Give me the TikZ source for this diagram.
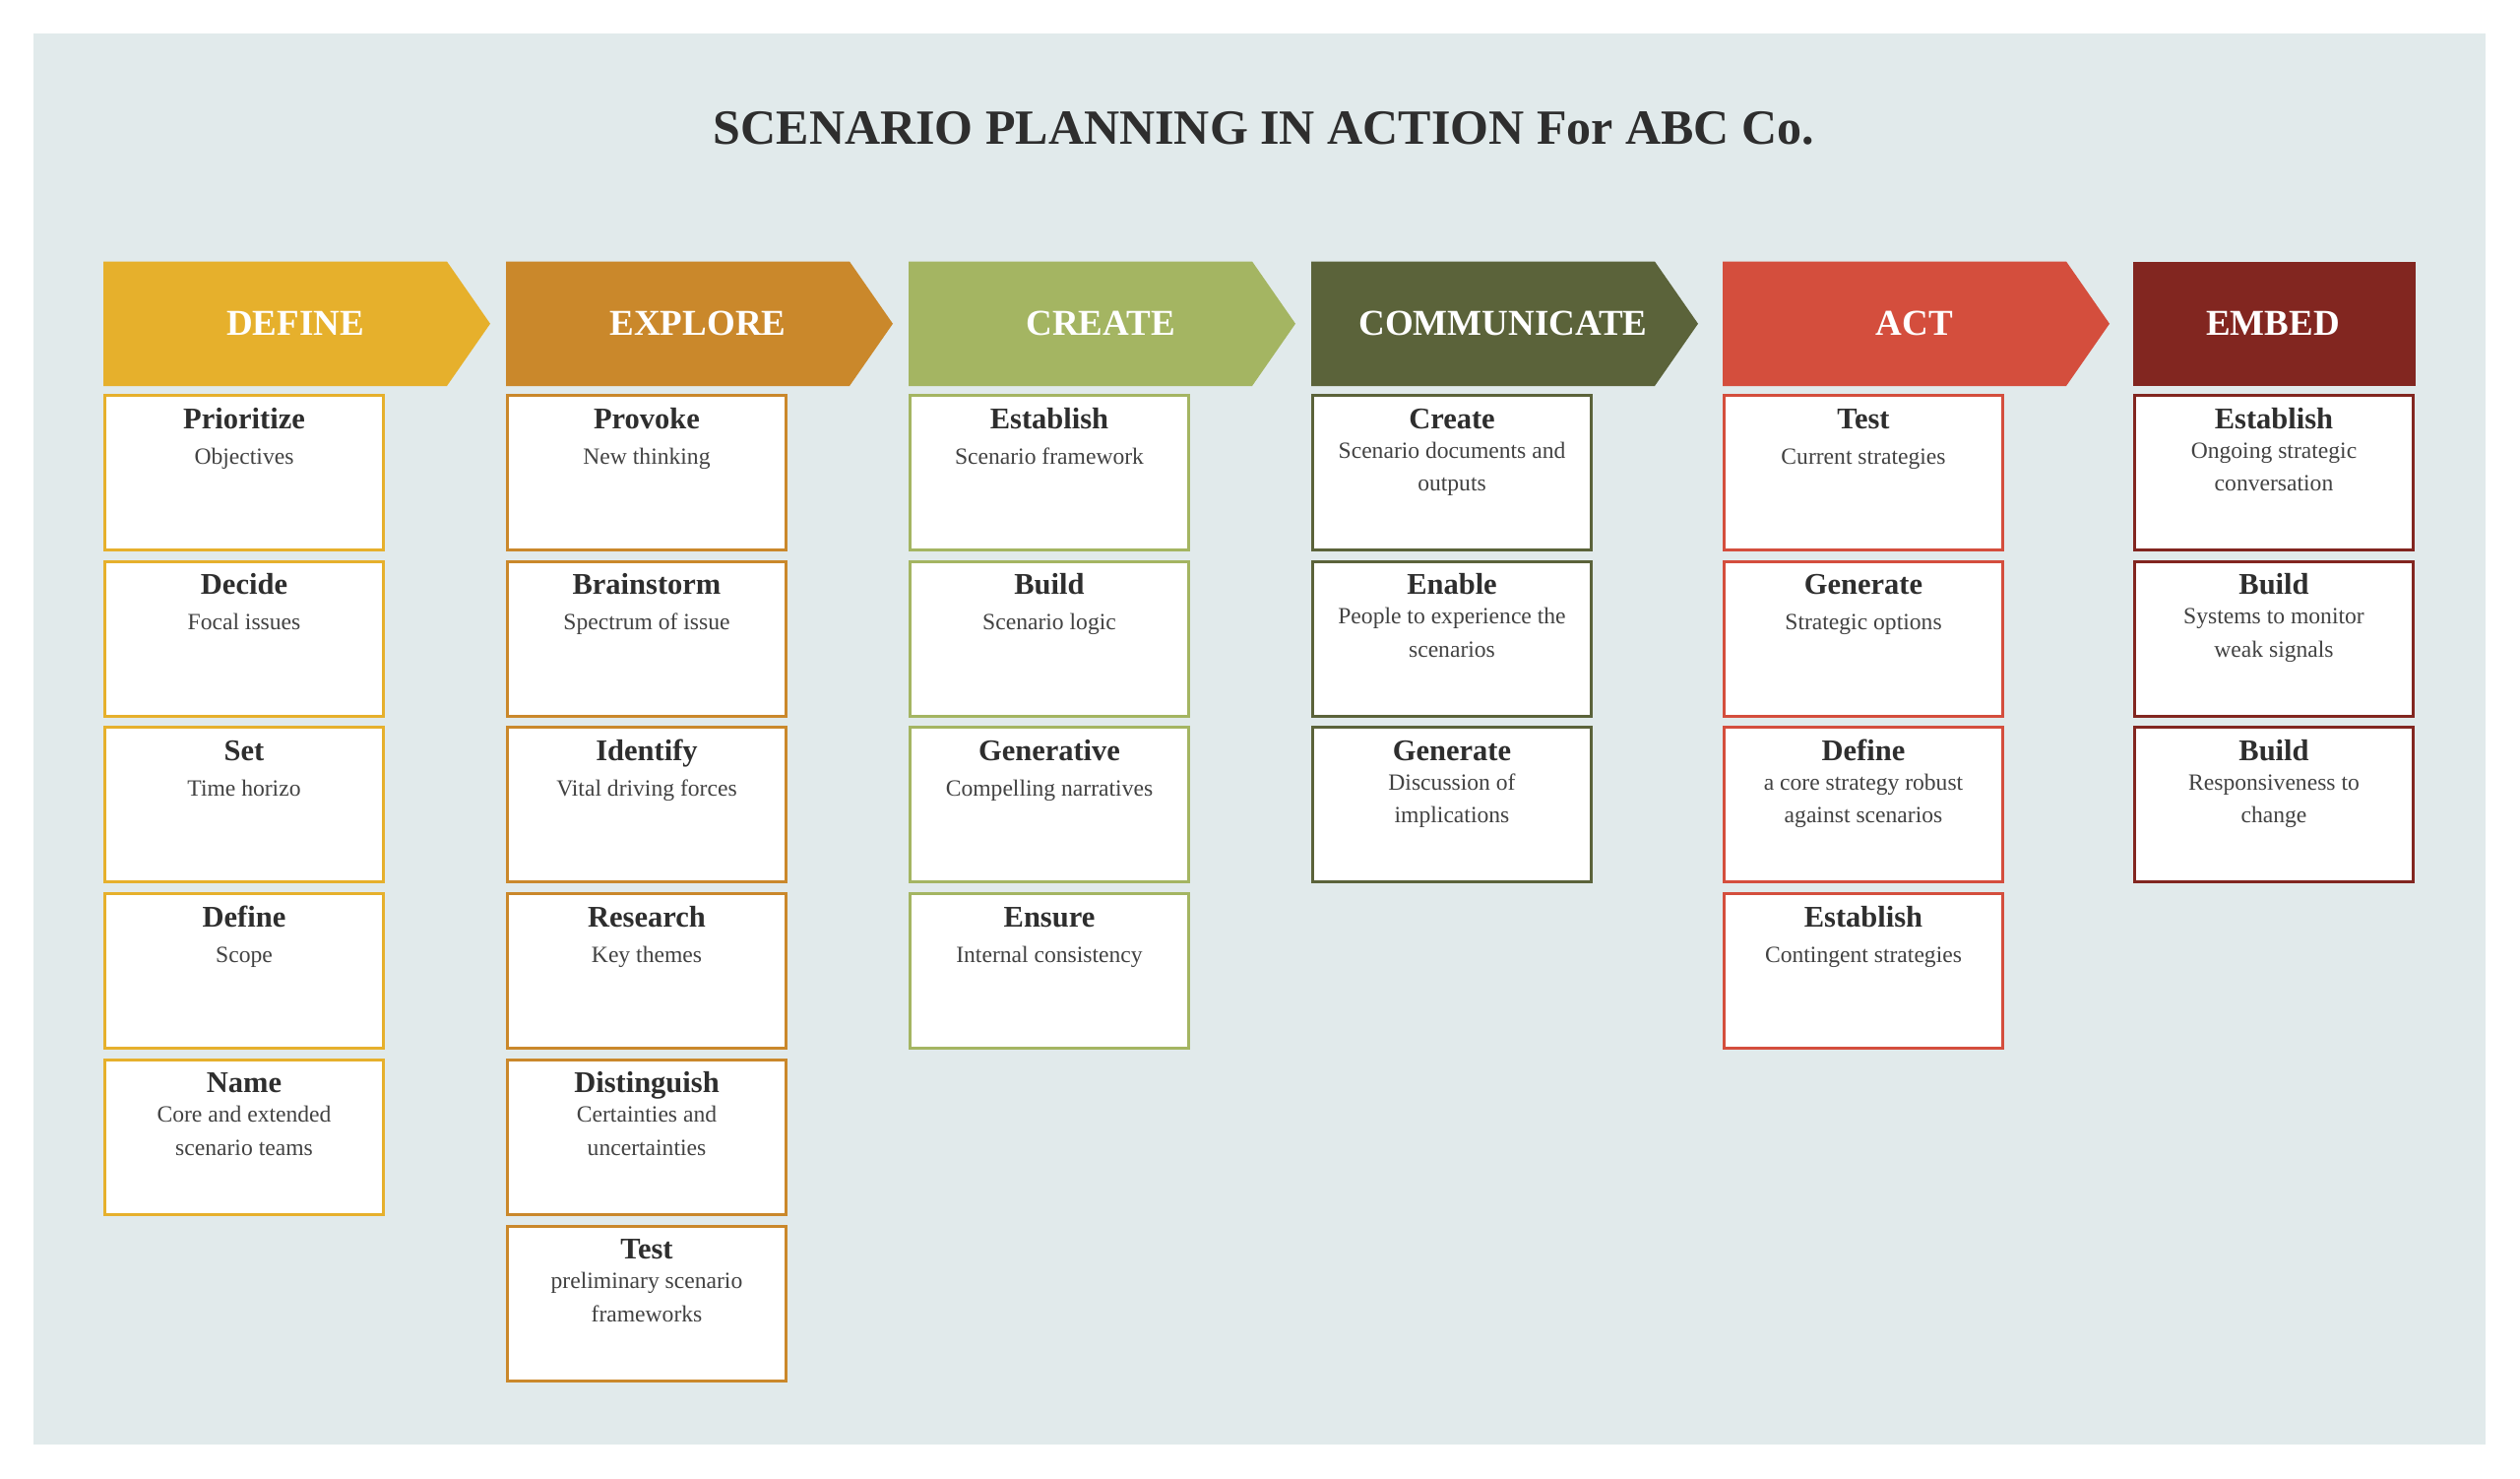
\documentclass[tikz,border=0pt]{standalone}
\usepackage{fontspec}
\setmainfont{Liberation Serif}
\definecolor{bgcol}{HTML}{E1EAEB}
\definecolor{cDefine}{HTML}{E6B02C}
\definecolor{cExplore}{HTML}{CA882B}
\definecolor{cCreate}{HTML}{A4B562}
\definecolor{cComm}{HTML}{5B633A}
\definecolor{cAct}{HTML}{D44E3D}
\definecolor{cEmbed}{HTML}{822620}
\definecolor{titlegray}{HTML}{2E2E2E}
\definecolor{subgray}{HTML}{424242}
\tikzset{
  hdrtext/.style={text=white, font=\fontsize{37}{42}\selectfont\bfseries, inner sep=0pt, anchor=center},
  cardbox/.style={draw=#1, line width=3pt, fill=white, minimum width=283pt, minimum height=157pt, inner sep=0pt, outer sep=0pt, anchor=north west},
  cardtitle/.style={font=\fontsize{30.5}{36}\selectfont\bfseries, text=titlegray, anchor=base, inner sep=0pt},
  cardsub/.style={font=\fontsize{23.6}{28}\selectfont, text=subgray, anchor=base, inner sep=0pt},
}
\newcommand\mycard[7]{%
  \node[cardbox=#4] (#1) at ({#2+1.5},{#3+1.5}) {};
  \node[cardtitle] (#1t) at ({#2+143},{#3+35}) {#5};
  \if\relax\detokenize{#7}\relax
    \node[cardsub] (#1a) at ({#2+143},{#3+71}) {#6};
  \else
    \node[cardsub] (#1a) at ({#2+143},{#3+65}) {#6};
    \node[cardsub] (#1b) at ({#2+143},{#3+98.5}) {#7};
  \fi}
\newcommand\myhead[4]{%
  \fill[#3] (#2,265.5) -- ({#2+349},265.5) -- ({#2+393},328.75) -- ({#2+349},392) -- (#2,392) -- cycle;
  \node[hdrtext] (#1) at ({#2+195},328.75) {#4};}
\begin{document}
\begin{tikzpicture}[x=1pt,y=-1pt]
\useasboundingbox (0,0) rectangle (2560,1502);
\fill[white] (0,0) rectangle (2560,1502);
\fill[bgcol] (34,34) rectangle (2525,1467);
\node[font=\fontsize{50}{60}\selectfont\bfseries, text=titlegray, anchor=base, inner sep=0pt] (title) at (1284,146) {SCENARIO PLANNING IN ACTION For ABC Co.};
% headers
\myhead{hDefine}{105}{cDefine}{DEFINE}
\myhead{hExplore}{514}{cExplore}{EXPLORE}
\myhead{hCreate}{923}{cCreate}{CREATE}
\myhead{hComm}{1332}{cComm}{COMMUNICATE}
\myhead{hAct}{1750}{cAct}{ACT}
\fill[cEmbed] (2167,265.5) rectangle (2454,392);
\node[hdrtext] (hEmbed) at (2309,328.75) {EMBED};
% DEFINE
\mycard{d1}{105}{400}{cDefine}{Prioritize}{Objectives}{}
\mycard{d2}{105}{568.7}{cDefine}{Decide}{Focal issues}{}
\mycard{d3}{105}{737.4}{cDefine}{Set}{Time horizo}{}
\mycard{d4}{105}{906.1}{cDefine}{Define}{Scope}{}
\mycard{d5}{105}{1074.8}{cDefine}{Name}{Core and extended}{scenario teams}
% EXPLORE
\mycard{e1}{514}{400}{cExplore}{Provoke}{New thinking}{}
\mycard{e2}{514}{568.7}{cExplore}{Brainstorm}{Spectrum of issue}{}
\mycard{e3}{514}{737.4}{cExplore}{Identify}{Vital driving forces}{}
\mycard{e4}{514}{906.1}{cExplore}{Research}{Key themes}{}
\mycard{e5}{514}{1074.8}{cExplore}{Distinguish}{Certainties and}{uncertainties}
\mycard{e6}{514}{1243.5}{cExplore}{Test}{preliminary scenario}{frameworks}
% CREATE
\mycard{c1}{923}{400}{cCreate}{Establish}{Scenario framework}{}
\mycard{c2}{923}{568.7}{cCreate}{Build}{Scenario logic}{}
\mycard{c3}{923}{737.4}{cCreate}{Generative}{Compelling narratives}{}
\mycard{c4}{923}{906.1}{cCreate}{Ensure}{Internal consistency}{}
% COMMUNICATE
\mycard{m1}{1332}{400}{cComm}{Create}{Scenario documents and}{outputs}
\mycard{m2}{1332}{568.7}{cComm}{Enable}{People to experience the}{scenarios}
\mycard{m3}{1332}{737.4}{cComm}{Generate}{Discussion of}{implications}
% ACT
\mycard{a1}{1750}{400}{cAct}{Test}{Current strategies}{}
\mycard{a2}{1750}{568.7}{cAct}{Generate}{Strategic options}{}
\mycard{a3}{1750}{737.4}{cAct}{Define}{a core strategy robust}{against scenarios}
\mycard{a4}{1750}{906.1}{cAct}{Establish}{Contingent strategies}{}
% EMBED
\mycard{b1}{2167}{400}{cEmbed}{Establish}{Ongoing strategic}{conversation}
\mycard{b2}{2167}{568.7}{cEmbed}{Build}{Systems to monitor}{weak signals}
\mycard{b3}{2167}{737.4}{cEmbed}{Build}{Responsiveness to}{change}
\end{tikzpicture}
\end{document}
